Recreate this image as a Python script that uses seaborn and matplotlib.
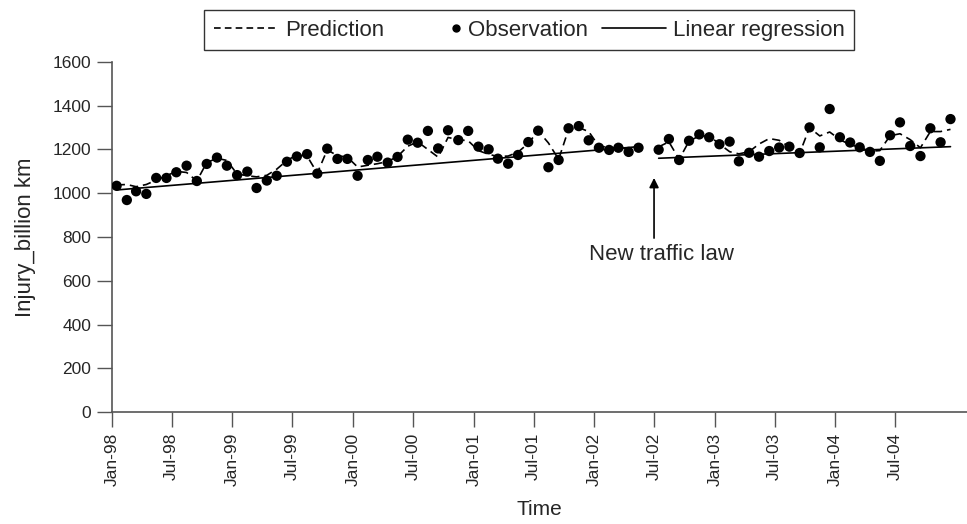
import numpy as np
import pandas as pd
import matplotlib
matplotlib.use("Agg")
import matplotlib.pyplot as plt
import matplotlib.dates as mdates
from matplotlib.lines import Line2D
from matplotlib.legend_handler import HandlerLine2D
import seaborn as sns

# monthly values Jan-98 .. Dec-04, June 2002 missing (new traffic law)
observation = [
    1034, 969, 1009, 997, 1070, 1070, 1096, 1126, 1056, 1134, 1163, 1126,
    1083, 1099, 1024, 1058, 1080, 1144, 1168, 1179, 1090, 1204, 1157, 1157,
    1080, 1152, 1167, 1140, 1166, 1245, 1231, 1285, 1205, 1288, 1243, 1285,
    1213, 1201, 1158, 1135, 1175, 1234, 1286, 1119, 1152, 1297, 1307, 1242,
    1208, 1198, 1208, 1189, 1208, np.nan, 1199, 1248, 1152, 1240, 1269, 1256,
    1224, 1236, 1146, 1185, 1167, 1193, 1209, 1213, 1184, 1301, 1210, 1385,
    1256, 1232, 1210, 1189, 1148, 1265, 1324, 1216, 1170, 1297, 1233, 1339,
]
prediction = [
    1038, 1040, 1030, 1040, 1060, 1080, 1100, 1095, 1056, 1140, 1160, 1150,
    1088, 1080, 1075, 1082, 1110, 1150, 1175, 1170, 1092, 1198, 1172, 1165,
    1120, 1128, 1135, 1145, 1168, 1215, 1235, 1200, 1165, 1255, 1245, 1240,
    1195, 1178, 1168, 1170, 1188, 1228, 1285, 1230, 1155, 1292, 1300, 1282,
    1215, 1210, 1205, 1205, 1210, np.nan, 1212, 1235, 1155, 1238, 1262, 1262,
    1225, 1190, 1180, 1190, 1225, 1250, 1242, 1212, 1182, 1300, 1262, 1280,
    1245, 1222, 1210, 1192, 1195, 1263, 1272, 1245, 1208, 1282, 1282, 1292,
]
# end points of the two fitted regression segments
reg_dates = ["1998-01-15", "2002-05-15", "2002-07-15", "2004-12-15"]
reg_values = [1015, 1213, 1160, 1213]
reg_segment = ["before", "before", "after", "after"]

tick_dates = pd.date_range("1998-01-01", "2004-07-01", freq="6MS")

months = pd.date_range("1998-01-01", "2004-12-01", freq="MS") + pd.Timedelta(days=14)
df = pd.DataFrame({"date": months, "obs": observation, "pred": prediction})
df["segment"] = np.where(df["date"] < pd.Timestamp("2002-06-01"), "before", "after")
df = df.dropna()

df_reg = pd.DataFrame({"date": pd.to_datetime(reg_dates), "value": reg_values,
                       "segment": reg_segment})


class DotAtEnd(HandlerLine2D):
    # single marker sits in the middle of xdata, so squeeze xdata at the right end
    def get_xdata(self, legend, xdescent, ydescent, width, height, fontsize):
        xe = -xdescent + width - 0.25 * fontsize
        return np.array([xe - 1, xe + 1]), np.array([xe])


sns.set_style("ticks")
plt.rcParams["font.family"] = ["Liberation Sans", "DejaVu Sans"]

fig = plt.figure(figsize=(9.67, 5.24), dpi=100)
ax = fig.add_axes([0.1158, 0.2137, 0.8842, 0.668])

sns.lineplot(data=df, x="date", y="pred", units="segment", estimator=None,
             color="black", linewidth=1.2, linestyle=(0, (5, 3)), ax=ax)
sns.lineplot(data=df_reg, x="date", y="value", units="segment", estimator=None,
             color="black", linewidth=1.2, ax=ax)
sns.scatterplot(data=df, x="date", y="obs", color="black", s=55,
                edgecolor="none", zorder=3, ax=ax)

ax.set_xlim(pd.Timestamp("1998-01-01"), pd.Timestamp("2005-02-03"))
ax.set_ylim(0, 1600)
ax.set_yticks(range(0, 1601, 200))
ax.set_xticks(tick_dates)
ax.xaxis.set_major_formatter(mdates.DateFormatter("%b-%y"))
plt.setp(ax.get_xticklabels(), rotation=90)
ax.tick_params(axis="both", length=11, width=1, color="#555555",
               labelsize=12.5, pad=4)

sns.despine(ax=ax)
for s in ["left", "bottom"]:
    ax.spines[s].set_color("#555555")
    ax.spines[s].set_linewidth(1.2)

ax.set_xlabel("Time", fontsize=15, labelpad=10)
ax.set_ylabel("Injury_billion km", fontsize=16, labelpad=12)

law = pd.Timestamp("2002-07-01")
ax.annotate("", xy=(law, 1070), xytext=(law, 795),
            arrowprops=dict(arrowstyle="-|>", color="black", lw=1.2,
                            mutation_scale=14, shrinkA=0, shrinkB=0))
ax.text(law + pd.Timedelta(days=22), 718, "New traffic law", fontsize=16,
        ha="center", va="center")

handles = [
    Line2D([], [], color="black", linewidth=1.2, linestyle=(0, (4, 2.5))),
    Line2D([], [], color="black", marker="o", markersize=5, linestyle="none"),
    Line2D([], [], color="black", linewidth=1.2),
]
leg = ax.legend(handles, ["Prediction", "Observation", "Linear regression"],
                handler_map={handles[1]: DotAtEnd(numpoints=1)},
                loc="upper center", bbox_to_anchor=(0.488, 1.148), ncol=3,
                fontsize=16, frameon=True, fancybox=False, edgecolor="black",
                handlelength=2.9, columnspacing=0.6, handletextpad=0.3,
                borderpad=0.42, borderaxespad=0)
leg.get_frame().set_linewidth(1.0)

fig.savefig("out.png", dpi=100)
